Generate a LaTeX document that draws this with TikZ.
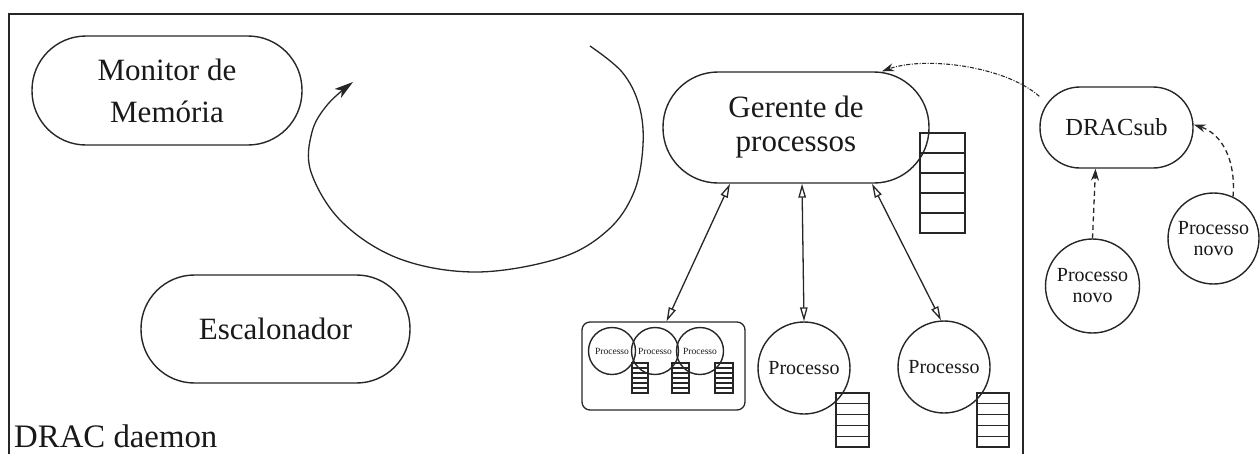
\documentclass[tikz,border=0pt]{standalone}
\usepackage{fontspec}
\setmainfont{Liberation Serif}
\usetikzlibrary{arrows.meta}

% stack of queue cells: x, y (top-left), width, height, number of cells
\newcommand\fila[5]{%
  \draw[linha] ({#1},{#2}) rectangle ++({#3},{#4});
  \pgfmathtruncatemacro\fimfila{#5-1}%
  \foreach \k in {1,...,\fimfila}
    \draw[linha] ({#1},{#2+\k*#4/#5}) -- ++({#3},0);
}

\begin{document}
\begin{tikzpicture}[x=1pt,y=-1pt,
  tinta/.style={black!85},
  linha/.style={tinta, line width=1.3pt},
  pill/.style={draw, tinta, line width=1.4pt, rounded corners=#1, inner sep=0pt,
    align=center, text=black!90},
  proc/.style={draw, tinta, circle, line width=1.4pt, inner sep=0pt,
    minimum size=#1, align=center, text=black!90},
  biarrow/.style={linha, {Triangle[open,length=14pt,width=7.5pt]}-{Triangle[open,length=14pt,width=7.5pt]}},
  novoarrow/.style={linha, dashed, dash pattern=on 5pt off 3.5pt, -{Stealth[length=12pt,width=8pt]}},
  subarrow/.style={linha, line width=1.1pt, dash pattern=on 4pt off 1.5pt on 1pt off 1.5pt,
    -{Stealth[length=12pt,width=8pt]}},
  grande/.style={font=\fontsize{31}{#1}\selectfont},
  medio/.style={font=\fontsize{20}{21}\selectfont},
]
\useasboundingbox (0,0) rectangle (1260,453);

% daemon frame (open at the bottom)
\draw[tinta, line width=1.9pt] (9,470) -- (9,14) -- (1023,14) -- (1023,470);
\node[anchor=base west, font=\fontsize{32.8}{34}\selectfont, text=black!90, inner sep=0pt]
  (daemon) at (14,447) {DRAC daemon};

% daemon components
\node[pill=54pt, minimum width=270pt, minimum height=109pt, grande=42] (mon) at (167,90.5)
  {Monitor de\\Memória};
\node[pill=53.5pt, minimum width=269pt, minimum height=108pt, grande=33] (esc) at (275.5,329)
  {Escalonador};
\node[pill=55pt, minimum width=266pt, minimum height=111pt, grande=34] (ger) at (796,127.5)
  {Gerente de\\processos};

% scheduling loop
\draw[linha, -{Stealth[length=19pt,width=11pt,inset=5pt]}] plot[smooth, tension=0.6] coordinates
  {(590,46) (622,72) (639,105) (643,145) (634,192) (608,230) (560,258) (477,272)
   (400,259) (342,222) (311,172) (312,132) (328,104) (353,82)};

% group of processes
\node[draw, tinta, line width=1.3pt, rounded corners=8pt, minimum width=163pt,
  minimum height=88pt, inner sep=0pt] (grp) at (663.5,366) {};
\node[proc=47pt, font=\fontsize{9.5}{10}\selectfont] (c1) at (612,351) {Processo};
\node[proc=47pt, font=\fontsize{9.5}{10}\selectfont] (c2) at (655,351) {Processo};
\node[proc=47pt, font=\fontsize{9.5}{10}\selectfont] (c3) at (700,351) {Processo};
\fila{632}{363}{16}{30}{6}
\fila{672}{363}{17}{30}{6}
\fila{715}{363}{18}{30}{6}

% single processes
\node[proc=92pt, medio] (p1) at (804,368) {Processo};
\node[proc=92pt, medio] (p2) at (944,367) {Processo};
\fila{836}{393}{33}{54}{5}
\fila{977}{393}{32}{54}{5}

% queue of the process manager
\fila{920}{133}{45}{100}{5}

% manager links
\draw[biarrow] ([xshift=-66pt]ger.south) -- ([xshift=3pt]grp.north);
\draw[biarrow] ([xshift=6pt]ger.south) -- (p1.north);
\draw[biarrow] ([xshift=76pt]ger.south) -- ([xshift=-3pt]p2.north);

% submission side
\node[pill=40pt, minimum width=153pt, minimum height=81pt, font=\fontsize{24.5}{26}\selectfont]
  (sub) at (1116.5,127.5) {DRACsub};
\node[proc=94pt, medio] (n1) at (1092.5,286) {Processo\\novo};
\node[proc=91pt, medio] (n2) at (1213.5,238.5) {Processo\\novo};

\draw[novoarrow] (n1.north) -- ([xshift=-21pt]sub.south);
\draw[novoarrow] (n2.65) .. controls (1236,160) and (1222,134) .. ([yshift=3pt]sub.east);
\draw[subarrow] (sub.158) .. controls (1005,66) and (925,56) .. ([xshift=86pt]ger.north);
\end{tikzpicture}
\end{document}
